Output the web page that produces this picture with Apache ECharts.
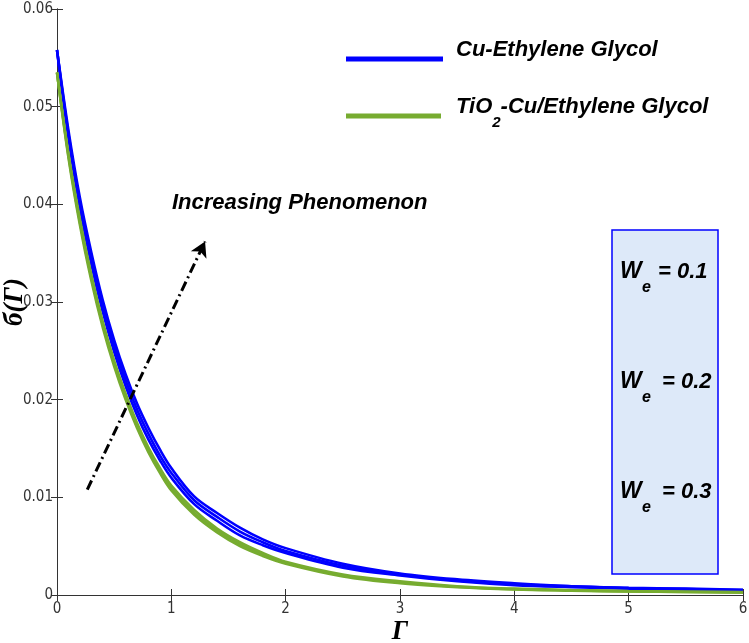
<!DOCTYPE html>
<html><head><meta charset="utf-8">
<script src="https://cdn.jsdelivr.net/npm/echarts@6/dist/echarts.min.js"></script>
<style>html,body{margin:0;padding:0;background:#fff}#c{width:749px;height:643px}</style>
</head><body><div id="c"></div>
<script>
// ---- data ----
const xValues = [0, 0.1, 0.2, 0.3, 0.4, 0.5, 0.6, 0.7, 0.8, 0.9, 1.0, 1.2, 1.4, 1.6, 1.8, 2.0, 2.5, 3.0, 3.5, 4.0, 4.5, 5.0, 5.5, 6.0];

const cuEG_We01 = [0.0558, 0.0468, 0.0397, 0.0339, 0.0290, 0.0249, 0.0214, 0.0184, 0.0159, 0.0138, 0.0120, 0.0093, 0.0076, 0.0061, 0.0051, 0.0043, 0.0028, 0.0020, 0.0014, 0.0010, 0.0008, 0.00065, 0.00055, 0.00046];
const cuEG_We02 = [0.0558, 0.0472, 0.0402, 0.0345, 0.0296, 0.0255, 0.0220, 0.0190, 0.0165, 0.0143, 0.0125, 0.0097, 0.0080, 0.0065, 0.0054, 0.0045, 0.0030, 0.0021, 0.0015, 0.0011, 0.0009, 0.0007, 0.0006, 0.0005];
const cuEG_We03 = [0.0558, 0.0476, 0.0407, 0.0351, 0.0302, 0.0261, 0.0226, 0.0196, 0.0171, 0.0149, 0.0130, 0.0101, 0.0084, 0.0069, 0.0057, 0.0048, 0.0032, 0.0022, 0.0016, 0.0012, 0.0009, 0.00075, 0.00065, 0.00054];

const tiCuEG_We01 = [0.0535, 0.0448, 0.0379, 0.0322, 0.0274, 0.0234, 0.0200, 0.0171, 0.0146, 0.0125, 0.0107, 0.0082, 0.0064, 0.0050, 0.0040, 0.0032, 0.0019, 0.0012, 0.0008, 0.00057, 0.00045, 0.00036, 0.0003, 0.00025];
const tiCuEG_We02 = [0.0535, 0.0450, 0.0382, 0.0325, 0.0277, 0.0237, 0.0203, 0.0173, 0.0148, 0.0127, 0.0109, 0.0084, 0.0066, 0.0052, 0.0041, 0.0033, 0.0020, 0.0013, 0.00085, 0.0006, 0.00048, 0.00038, 0.00032, 0.00027];
const tiCuEG_We03 = [0.0535, 0.0452, 0.0385, 0.0328, 0.0280, 0.0240, 0.0206, 0.0176, 0.0151, 0.0130, 0.0112, 0.0087, 0.0068, 0.0054, 0.0043, 0.0034, 0.0021, 0.0014, 0.0009, 0.00065, 0.00051, 0.0004, 0.00034, 0.00029];

const seriesNames = ['Cu-Ethylene Glycol', 'TiO2-Cu/Ethylene Glycol'];
const weLabels = ['0.1', '0.2', '0.3'];
const xTicks = [0, 1, 2, 3, 4, 5, 6];
const yTicks = [0, 0.01, 0.02, 0.03, 0.04, 0.05, 0.06];
const arrowStart = [0.265, 0.0108];
const arrowEnd = [1.295, 0.0362];
const annotationText = 'Increasing Phenomenon';

// ---- chart ----
const BLUE = '#0000ff', GREEN = '#77ac30';
const SANS = '"Liberation Sans", Arial, sans-serif';
const NARROW = '"Liberation Sans Narrow", "DejaVu Sans Condensed", "Liberation Sans", sans-serif';
const SERIF = '"Liberation Serif", "DejaVu Serif", serif';

function pairs(arr) { return xValues.map((x, i) => [x, arr[i]]); }
function lineSeries(name, arr, color) {
  return {
    type: 'line', name, data: pairs(arr), showSymbol: false, smooth: 0.35,
    lineStyle: { color, width: 2.6 }, itemStyle: { color }, silent: true, z: 3
  };
}

const axisStyle = { lineStyle: { color: '#333', width: 1 } };
const tickStyle = { show: true, inside: true, length: 6, lineStyle: { color: '#333' } };
const lblFmt = v => String(+(+v).toFixed(2));

const chart = echarts.init(document.getElementById('c'), null, { renderer: 'canvas' });
const boxGraphics = [{
  type: 'rect', shape: { x: 612, y: 230, width: 106, height: 344 },
  style: { fill: '#dde9f9', stroke: BLUE, lineWidth: 1.5 }, z: 10
}];
const rowY = [271.5, 381.5, 491.5];
const eqX = [658, 662, 662];
weLabels.forEach((w, i) => {
  boxGraphics.push({ type: 'text', x: 620, y: rowY[i], z: 11,
    style: { text: 'W', font: 'italic bold 23px ' + SANS, fill: '#000', verticalAlign: 'middle' } });
  boxGraphics.push({ type: 'text', x: 642, y: rowY[i] + 16, z: 11,
    style: { text: 'e', font: 'italic bold 16px ' + SANS, fill: '#000', verticalAlign: 'middle' } });
  boxGraphics.push({ type: 'text', x: eqX[i], y: rowY[i], z: 11,
    style: { text: '= ' + w, font: 'italic bold 22px ' + SANS, fill: '#000', verticalAlign: 'middle' } });
});
boxGraphics.push({ type: 'text', x: 172, y: 203, z: 11,
  style: { text: annotationText, font: 'italic bold 22px ' + SANS, fill: '#000', verticalAlign: 'middle' } });

const legTok = { fontSize: 22, fontWeight: 'bold', fontStyle: 'italic', fontFamily: SANS, color: '#000', lineHeight: 26 };

chart.setOption({
  animation: false,
  backgroundColor: '#fff',
  grid: { left: 57, right: 6, top: 9, bottom: 48, containLabel: false, outerBoundsMode: 'none' },
  legend: [
    { data: [seriesNames[0]], left: 346, top: 39, padding: 0, itemWidth: 97, itemHeight: 5, icon: 'rect',
      selectedMode: false,
      formatter: n => '{a|' + n + '}',
      textStyle: { rich: { a: Object.assign({}, legTok, { padding: [0, 0, 18, 8] }) } } },
    { data: [seriesNames[1]], left: 346, top: 94, padding: 0, itemWidth: 95, itemHeight: 5, icon: 'rect',
      selectedMode: false,
      formatter: () => '{a|TiO}{s|2}{b|-Cu/Ethylene Glycol}',
      textStyle: { rich: {
        a: Object.assign({}, legTok, { padding: [0, 0, 18, 10] }),
        s: Object.assign({}, legTok, { fontSize: 15, lineHeight: 15, padding: [21, 0, 8, 0] }),
        b: Object.assign({}, legTok, { padding: [0, 0, 18, 0] })
      } } }
  ],
  xAxis: [
    { type: 'value', min: xTicks[0], max: xTicks[xTicks.length - 1], interval: 1, position: 'bottom',
      axisLine: axisStyle, axisTick: tickStyle, splitLine: { show: false },
      axisLabel: { color: '#333', fontSize: 15, fontFamily: NARROW, margin: 7 },
      name: 'Γ', nameLocation: 'middle', nameGap: 24, nameMoveOverlap: false,
      nameTextStyle: { fontFamily: SERIF, fontSize: 27, fontWeight: 'bold', fontStyle: 'italic', color: '#000' } },
    { type: 'value', min: xTicks[0], max: xTicks[xTicks.length - 1], interval: 1, position: 'top',
      axisLine: axisStyle, axisTick: tickStyle, splitLine: { show: false }, axisLabel: { show: false } }
  ],
  yAxis: [
    { type: 'value', min: yTicks[0], max: yTicks[yTicks.length - 1], interval: 0.01, position: 'left',
      axisLine: axisStyle, axisTick: tickStyle, splitLine: { show: false },
      axisLabel: { color: '#333', fontSize: 15, fontFamily: NARROW, margin: 4, formatter: lblFmt },
      name: 'б(Γ)', nameLocation: 'middle', nameGap: 28, nameMoveOverlap: false,
      nameTextStyle: { fontFamily: SERIF, fontSize: 27, fontWeight: 'bold', fontStyle: 'italic', color: '#000' } },
    { type: 'value', min: yTicks[0], max: yTicks[yTicks.length - 1], interval: 0.01, position: 'right',
      axisLine: axisStyle, axisTick: tickStyle, splitLine: { show: false }, axisLabel: { show: false } }
  ],
  series: [
    lineSeries(seriesNames[0], cuEG_We01, BLUE),
    lineSeries(seriesNames[0], cuEG_We02, BLUE),
    lineSeries(seriesNames[0], cuEG_We03, BLUE),
    lineSeries(seriesNames[1], tiCuEG_We01, GREEN),
    lineSeries(seriesNames[1], tiCuEG_We02, GREEN),
    lineSeries(seriesNames[1], tiCuEG_We03, GREEN),
    { type: 'line', name: 'arrow', data: [], silent: true, z: 5,
      markLine: { silent: true, symbol: ['none', 'arrow'], symbolSize: [13, 15], label: { show: false },
        lineStyle: { color: '#000', width: 3, type: [10, 4, 2, 4] },
        emphasis: { disabled: true },
        data: [[{ coord: arrowStart }, { coord: arrowEnd }]] } }
  ],
  graphic: boxGraphics
});
</script></body></html>
